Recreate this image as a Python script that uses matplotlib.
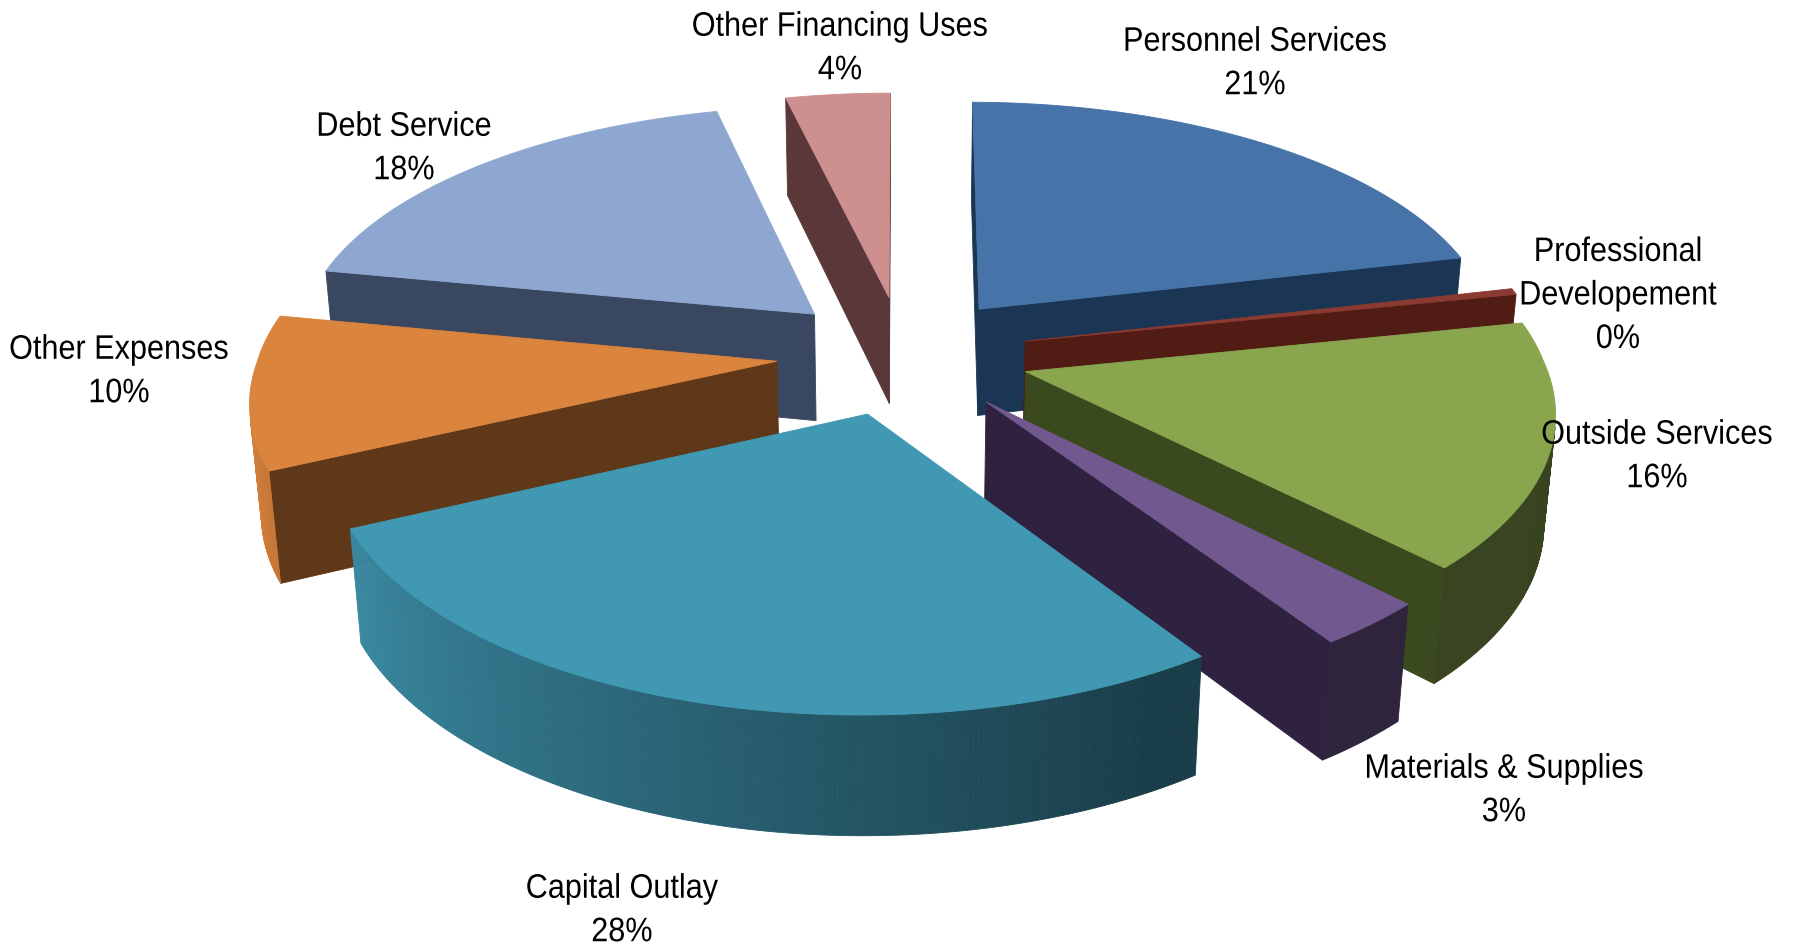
import matplotlib
matplotlib.use("Agg")

import numpy as np
import matplotlib.pyplot as plt
from matplotlib import font_manager
from matplotlib.patches import Polygon
from matplotlib.patheffects import AbstractPathEffect
from matplotlib.transforms import Affine2D

# Budget shares, clockwise from twelve o'clock
categories = ["Personnel Services", "Professional\nDevelopement", "Outside Services",
              "Materials & Supplies", "Capital Outlay", "Other Expenses",
              "Debt Service", "Other Financing Uses"]
values = [21, 0.4, 16, 3, 28, 10, 18, 3.6]

top_colors = ["#4673A8", "#8A3A30", "#89A54E", "#71588F", "#4098B3", "#DB843D", "#8EA7D1", "#CD8F8F"]
face_colors = ["#1B3654", "#501C14", "#3A4A1E", "#2F2240", "#1B3F4E", "#5E3818", "#394860", "#5A383A"]

# Back-to-front paint order, and label anchors in pixels
draw_order = [7, 6, 0, 5, 1, 2, 3, 4]
label_x = [1255, 1618, 1657, 1504, 622, 119, 404, 840]
label_y = [64, 296, 457, 791, 911, 372, 149, 49]

# Projection settings
cx, cy = 903, 355
radius_x, radius_y, depth = 520, 245, 110
persp_back, persp_front, persp_y, persp_z = 0.095, 0.12, 0.13, 0.018
sag = 4
explode = 0.243

names = {f.name for f in font_manager.fontManager.ttflist}
font = "Liberation Sans Narrow" if "Liberation Sans Narrow" in names else "Liberation Sans"


class SqueezeX(AbstractPathEffect):
    # condensed look for the labels: scale glyphs horizontally around the anchor
    def __init__(self, anchor, factor):
        super().__init__()
        self.anchor = anchor
        self.factor = factor

    def draw_path(self, renderer, gc, tpath, affine, rgbFace=None):
        squeeze = Affine2D().translate(-self.anchor, 0).scale(self.factor, 1).translate(self.anchor, 0)
        renderer.draw_path(gc, tpath, affine + squeeze, rgbFace)


def project(x, y, z):
    wx = 1 + (persp_back if y > 0 else persp_front) * y - persp_z * z
    wy = 1 + persp_y * y - persp_z * z
    return cx + radius_x * x / wx, cy - (radius_y * y + depth * z) / wy + sag * x * x


def wall_shade(theta):
    # darkest on the right of the front, brightening toward the left
    return np.clip(0.4 + 0.0052 * (np.degrees(theta) - 150), 0.41, 0.97)


def signed_area(points):
    xs, ys = np.array(points).T
    return 0.5 * np.sum(xs * np.roll(ys, -1) - np.roll(xs, -1) * ys)


def add_face(ax, points, color):
    # skip faces turned away from the viewer
    if signed_area(points) > 0:
        ax.add_patch(Polygon(points, closed=True, facecolor=color, edgecolor=color, linewidth=0.6))


fig = plt.figure(figsize=(17.97, 9.49), dpi=100)
ax = fig.add_axes([0, 0, 1, 1])
ax.set_xlim(0, 1797)
ax.set_ylim(949, 0)
ax.axis("off")

fractions = np.array(values) / sum(values)
edges = np.concatenate([[0], np.cumsum(fractions)]) * 2 * np.pi

for i in draw_order:
    a0, a1 = edges[i], edges[i + 1]
    mid = (a0 + a1) / 2
    ox, oy = explode * np.sin(mid), explode * np.cos(mid)
    arc = np.linspace(a0, a1, max(int((a1 - a0) * 120), 4))
    rim_x = ox + np.sin(arc)
    rim_y = oy + np.cos(arc)

    top = [project(ox, oy, 0)] + [project(x, y, 0) for x, y in zip(rim_x, rim_y)]
    rgb = np.array(matplotlib.colors.to_rgb(top_colors[i]))

    # radial sides
    add_face(ax, [project(ox, oy, 0), project(rim_x[0], rim_y[0], 0),
                  project(rim_x[0], rim_y[0], -1), project(ox, oy, -1)][::-1], face_colors[i])
    add_face(ax, [project(ox, oy, 0), project(rim_x[-1], rim_y[-1], 0),
                  project(rim_x[-1], rim_y[-1], -1), project(ox, oy, -1)], face_colors[i])

    # outer wall, shaded strip by strip
    for k in range(len(arc) - 1):
        quad = [project(rim_x[k], rim_y[k], 0), project(rim_x[k + 1], rim_y[k + 1], 0),
                project(rim_x[k + 1], rim_y[k + 1], -1), project(rim_x[k], rim_y[k], -1)]
        add_face(ax, quad[::-1], tuple(rgb * wall_shade((arc[k] + arc[k + 1]) / 2)))

    ax.add_patch(Polygon(top, closed=True, facecolor=top_colors[i], edgecolor=top_colors[i], linewidth=0.6))

for name, value, x, y in zip(categories, values, label_x, label_y):
    ax.text(x, y, f"{name}\n{value:.0f}%", ha="center", va="center", fontsize=24.5,
            family=font, color="black", linespacing=1.52, zorder=10,
            path_effects=[SqueezeX(x, 0.9)])

plt.savefig("out.png", dpi=100)
